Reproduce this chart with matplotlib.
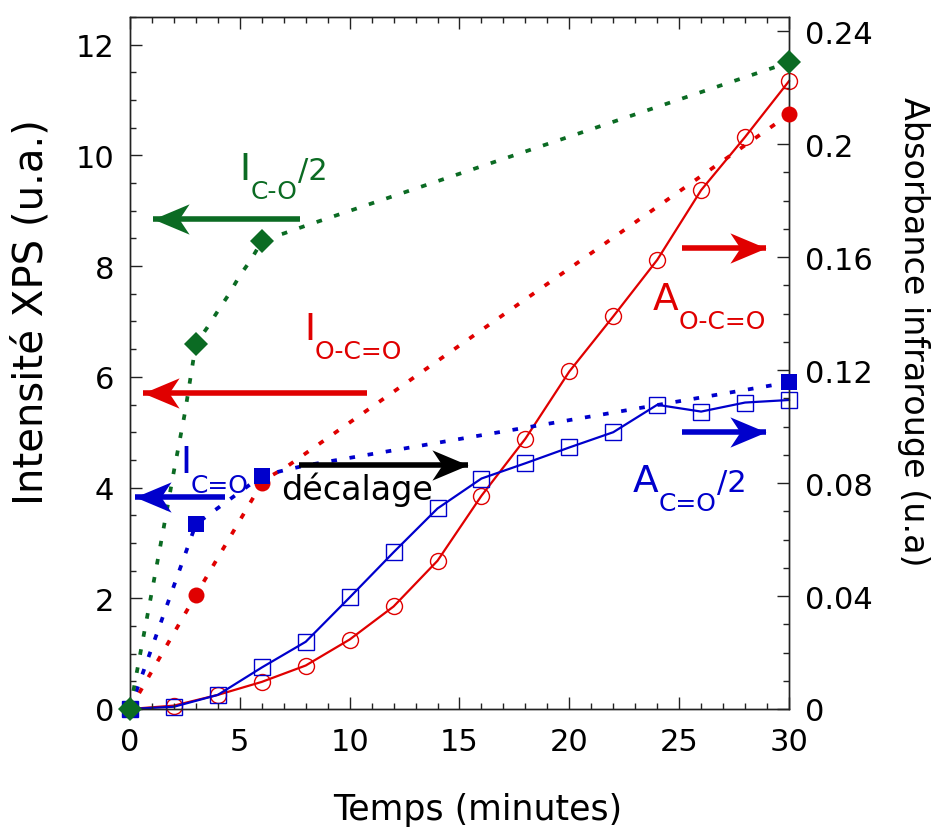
import matplotlib
matplotlib.use("Agg")
import matplotlib.pyplot as plt
from matplotlib.path import Path
from matplotlib.ticker import MultipleLocator, FuncFormatter

plt.rcParams['font.family'] = ['DejaVu Sans']

# ---- XPS intensities (left axis) ----
time_xps = [0, 3, 6, 30]
I_CO_half = [0, 6.6, 8.45, 11.68]
I_OCO = [0, 2.06, 4.08, 10.74]
I_CdO = [0, 3.34, 4.21, 5.9]

# guide curves drawn through the XPS points
guide_CO_t = [0, 0.5, 1, 1.5, 2, 2.5, 3, 3.5, 4, 4.5, 5, 5.5, 6, 6.5, 7, 8, 30]
guide_CO_v = [0, 1.07, 2.13, 3.2, 4.3, 5.35, 6.6, 6.88, 7.19, 7.49, 7.83, 8.11, 8.45, 8.53, 8.59, 8.73, 11.68]
guide_OCO_t = [0, 3, 6, 6.5, 7, 30]
guide_OCO_v = [0, 2.06, 4.08, 4.23, 4.34, 10.74]
guide_CdO_t = [0, 3, 6, 7, 8, 30]
guide_CdO_v = [0, 3.34, 4.21, 4.31, 4.40, 5.9]

# ---- infrared absorbances (right axis) ----
time_ir = [0, 2, 4, 6, 8, 10, 12, 14, 16, 18, 20, 22, 24, 26, 28, 30]
A_OCO = [0, 0.0012, 0.005, 0.0096, 0.0154, 0.0246, 0.0363, 0.0525, 0.0755,
         0.0957, 0.1195, 0.139, 0.159, 0.1837, 0.2025, 0.2223]
A_CdO_half = [0, 0.0008, 0.005, 0.0147, 0.0238, 0.0395, 0.0555, 0.071, 0.0816,
              0.087, 0.0926, 0.098, 0.1077, 0.1053, 0.1085, 0.1094]

GREEN = '#0b6b23'
RED = '#e00000'
BLUE = '#0000cc'

fig = plt.figure(figsize=(9.34, 8.28), dpi=100)
ax = fig.add_axes([130 / 934, 1 - 710 / 828, (789 - 130) / 934, (710 - 18) / 828])
ax2 = ax.twinx()
ax.set_zorder(ax2.get_zorder() + 1)
ax.patch.set_visible(False)

# absorbance curves with open symbols
ax2.plot(time_ir, A_OCO, '-', color=RED, lw=1.6, marker='o', ms=11.5,
         mfc='none', mec=RED, mew=1.0, clip_on=False)
ax2.plot(time_ir, A_CdO_half, '-', color=BLUE, lw=1.6, marker='s', ms=11.5,
         mfc='none', mec=BLUE, mew=1.0, clip_on=False)

# XPS guides (dotted) and points (filled)
dots = (0, (1.5, 3.4))
ax.plot(guide_OCO_t, guide_OCO_v, color=RED, lw=2.7, ls=dots, dash_capstyle='butt')
ax.plot(guide_CdO_t, guide_CdO_v, color=BLUE, lw=2.7, ls=dots, dash_capstyle='butt')
ax.plot(guide_CO_t, guide_CO_v, color=GREEN, lw=2.7, ls=dots, dash_capstyle='butt')
ax.plot(time_xps, I_OCO, 'o', color=RED, ms=11.5, mew=0, clip_on=False, zorder=4)
ax.plot(time_xps, I_CdO, 's', color=BLUE, ms=12, mew=0, clip_on=False, zorder=4)
ax.plot(time_xps, I_CO_half, 'D', color=GREEN, ms=12, mew=0, clip_on=False, zorder=5)

# axes ranges and ticks
ax.set_xlim(0, 30)
ax.set_ylim(0, 12.5)
ax2.set_ylim(0, 0.245)
ax.xaxis.set_major_locator(MultipleLocator(5))
ax.xaxis.set_minor_locator(MultipleLocator(1))
ax.yaxis.set_major_locator(MultipleLocator(2))
ax.yaxis.set_minor_locator(MultipleLocator(0.5))
ax2.yaxis.set_major_locator(MultipleLocator(0.04))
ax2.yaxis.set_minor_locator(MultipleLocator(0.01))
ax2.yaxis.set_major_formatter(FuncFormatter(lambda v, p: f"{round(v, 2):g}"))

for a in (ax, ax2):
    for s in a.spines.values():
        s.set_linewidth(1.0)
        s.set_color('#222222')
ax.tick_params(axis='x', which='both', direction='in', top=True, bottom=True,
               labelsize=22, pad=13)
ax.tick_params(axis='y', which='both', direction='in', left=True, right=False,
               labelsize=22, pad=11.5)
ax2.tick_params(axis='y', which='both', direction='in', right=True, left=False,
                labelsize=22, pad=11.5)
for a in (ax, ax2):
    a.tick_params(which='major', length=8.6, width=1.0, color='#222222')
    a.tick_params(which='minor', length=4.3, width=1.0, color='#222222')

# axis titles
ax.set_xlabel('Temps (minutes)', fontsize=25, va='baseline')
ax.xaxis.set_label_coords((478 - 130) / 659, (710 - 820) / 692)
ax.set_ylabel('Intensité XPS (u.a.)', fontsize=29, va='baseline')
ax.yaxis.set_label_coords((43 - 130) / 659, (710 - 312) / 692)
ax2.set_ylabel('Absorbance infrarouge (u.a)', fontsize=24, rotation=270,
               va='baseline', ha='center', rotation_mode='anchor')
ax2.yaxis.set_label_coords((904 - 130) / 659, (710 - 332) / 692)

# arrow heads with swept-back barbs
HEAD_LEFT = Path([(0, 0), (1, 0.42), (0.72, 0), (1, -0.42), (0, 0)],
                 [Path.MOVETO, Path.LINETO, Path.LINETO, Path.LINETO, Path.CLOSEPOLY])
HEAD_RIGHT = Path([(0, 0), (-1, 0.42), (-0.72, 0), (-1, -0.42), (0, 0)],
                  [Path.MOVETO, Path.LINETO, Path.LINETO, Path.LINETO, Path.CLOSEPOLY])


def arrow(x_tail, x_tip, y, color):
    ax.plot([x_tail, x_tip], [y, y], color=color, lw=4.0,
            solid_capstyle='butt', zorder=6)
    head = HEAD_LEFT if x_tip < x_tail else HEAD_RIGHT
    ax.plot([x_tip], [y], marker=head, ms=52, color=color, mew=0, zorder=6)


arrow(7.74, 1.05, 8.86, GREEN)
arrow(10.79, 0.59, 5.71, RED)
arrow(4.32, 0.23, 3.83, BLUE)
arrow(7.69, 15.38, 4.41, 'black')
arrow(25.13, 28.95, 8.33, RED)
arrow(25.13, 28.95, 5.01, BLUE)


def species_label(x, y, main, sub, tail, color):
    t = ax.text(x, y, main, color=color, fontsize=27, va='baseline', ha='left', zorder=7)
    s = ax.annotate(sub, xy=(1, y), xycoords=(t, 'data'), xytext=(0, -14),
                    textcoords='offset points', fontsize=18, color=color,
                    va='baseline', ha='left', zorder=7)
    if tail:
        ax.annotate(tail, xy=(1, y), xycoords=(s, 'data'), xytext=(0, 0),
                    textcoords='offset points', fontsize=22, color=color,
                    va='baseline', ha='left', zorder=7)


species_label(5.0, 9.58, 'I', 'C-O', '/2', GREEN)
species_label(7.92, 6.69, 'I', 'O-C=O', '', RED)
species_label(2.28, 4.28, 'I', 'C=O', '', BLUE)
species_label(23.8, 7.23, 'A', 'O-C=O', '', RED)
species_label(22.9, 3.94, 'A', 'C=O', '/2', BLUE)
ax.text(6.87, 3.80, 'décalage', fontsize=24, color='black', va='baseline',
        ha='left', zorder=7)

fig.savefig('out.png', dpi=100)
